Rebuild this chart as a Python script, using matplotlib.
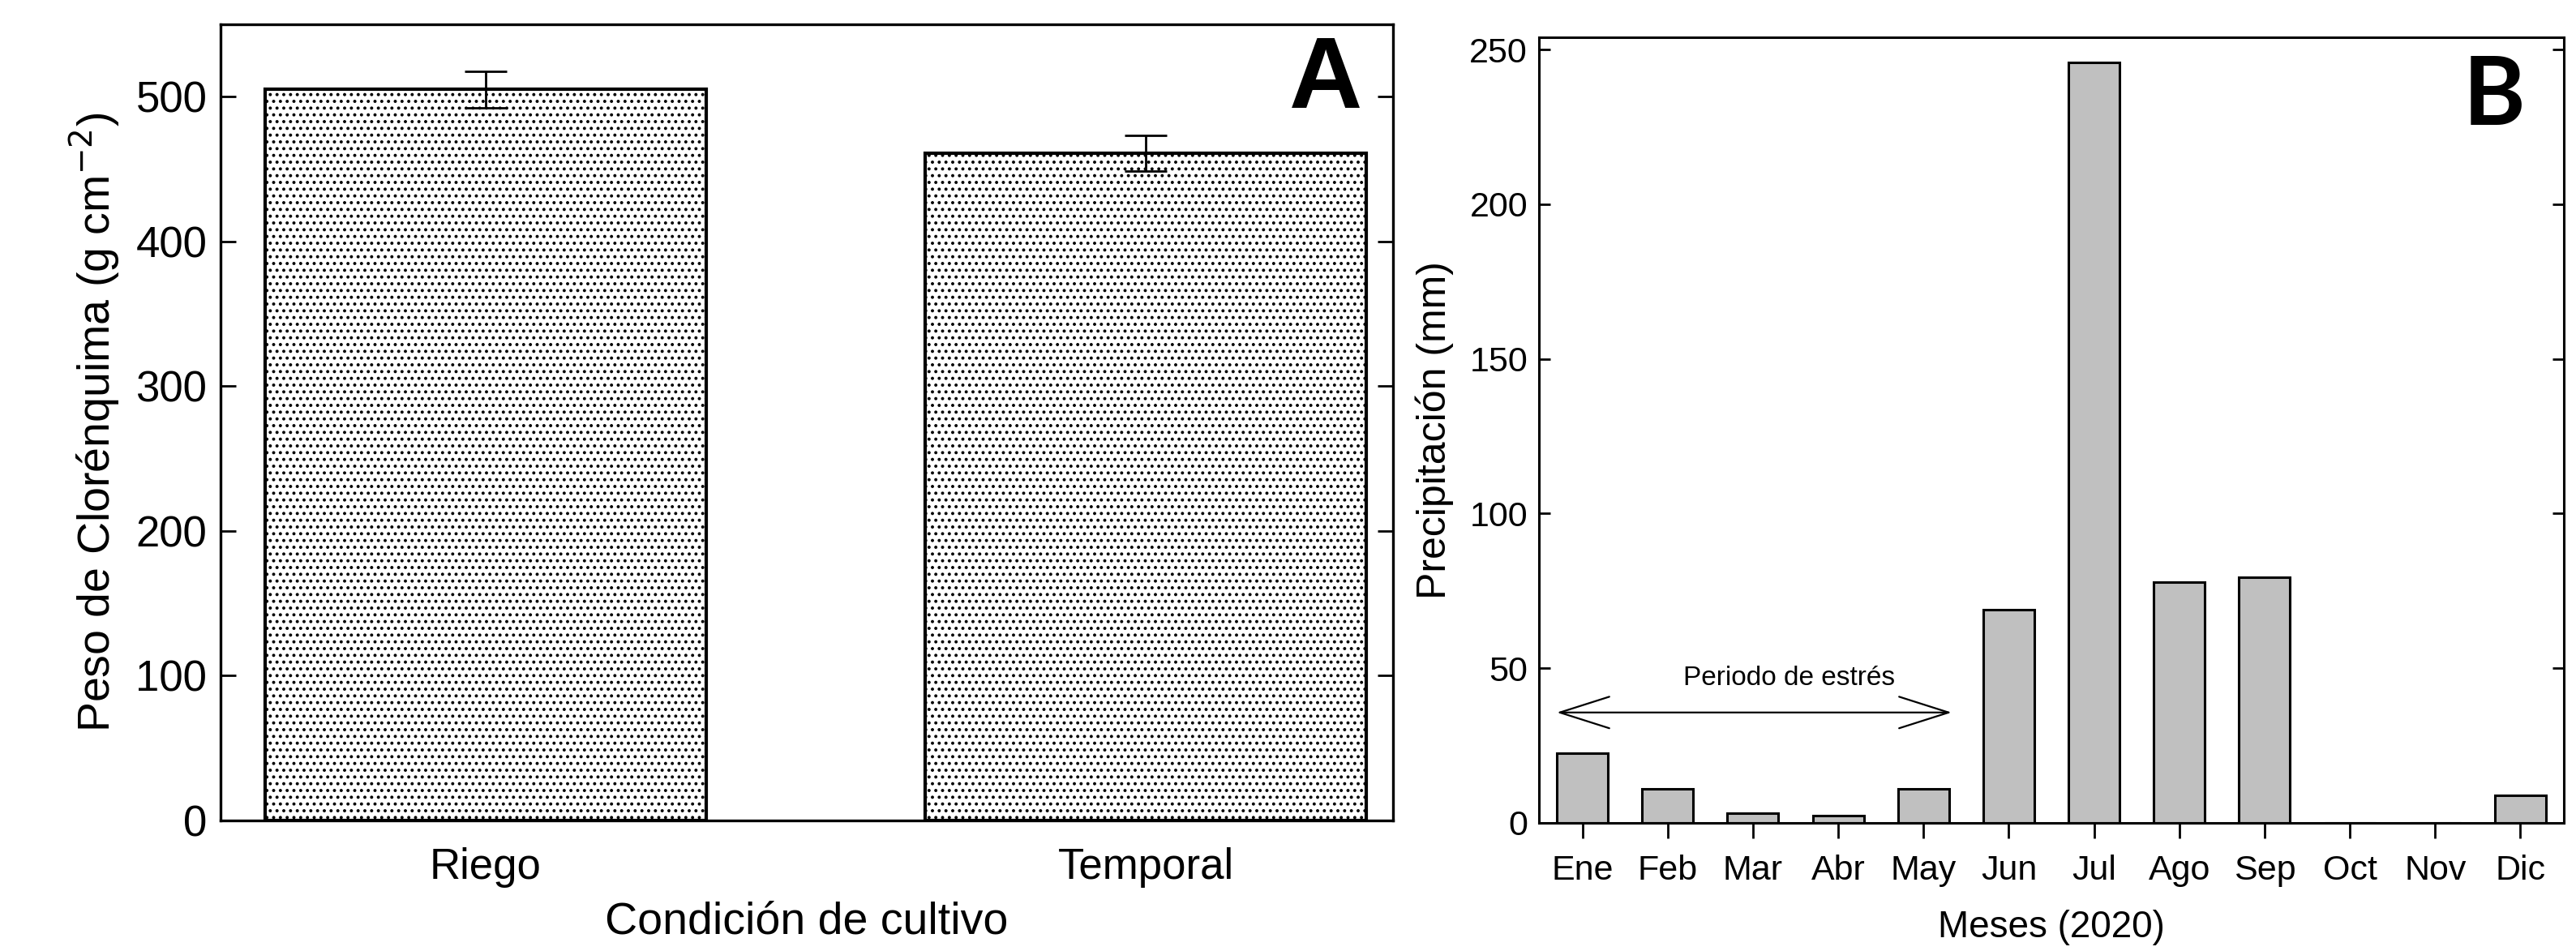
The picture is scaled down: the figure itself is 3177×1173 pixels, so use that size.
import matplotlib
matplotlib.use("Agg")
import matplotlib.pyplot as plt
import numpy as np

# Panel A data
conditions = ["Riego", "Temporal"]
weight = [505, 461]
weight_err = [12.5, 12.5]

# Panel B data
months = ["Ene", "Feb", "Mar", "Abr", "May", "Jun", "Jul", "Ago", "Sep", "Oct", "Nov", "Dic"]
rain = [22.6, 11.1, 3.1, 2.3, 11.1, 69.0, 246.0, 77.8, 79.5, 0, 0, 8.8]

# no condensed face installed, plain Liberation Sans stands in for Arial Narrow
narrow = ["Liberation Sans", "DejaVu Sans"]
regular = ["Liberation Sans", "DejaVu Sans"]

plt.rcParams["hatch.linewidth"] = 1.6
plt.rcParams["hatch.color"] = "black"

fig = plt.figure(figsize=(31.77, 11.73), dpi=100)

# ---------- A ----------
axA = fig.add_axes([0.0856, 0.1373, 0.4551, 0.8372])
xa = np.arange(1, len(conditions) + 1)
axA.bar(xa, weight, width=0.668, color="white", edgecolor="black",
        linewidth=3, hatch="..", zorder=2)
axA.errorbar(xa, weight, yerr=weight_err, fmt="none", ecolor="black",
             elinewidth=2, capsize=19, capthick=2, zorder=3)
axA.set_xlim(0.599, 2.374)
axA.set_ylim(0, 550)
axA.set_yticks([0, 100, 200, 300, 400, 500])
axA.set_xticks(xa)
axA.set_xticklabels(conditions)
for s in axA.spines.values():
    s.set_linewidth(2.4)
axA.tick_params(axis="y", direction="in", length=14, width=2, left=True,
                right=True, pad=12, labelsize=38)
axA.tick_params(axis="x", length=0, pad=24, labelsize=38)
for lab in axA.get_xticklabels() + axA.get_yticklabels():
    lab.set_family(narrow)
axA.set_ylabel("Peso de Clorénquima (g cm$^{-2}$)", family=regular,
               fontsize=40, labelpad=12)
axA.set_xlabel("Condición de cultivo", family=narrow, fontsize=40, labelpad=12)
axA.text(2.272, 510, "A", family=regular, fontweight="bold", fontsize=90,
         ha="center", va="center")

# ---------- B ----------
axB = fig.add_axes([0.5974, 0.1347, 0.3979, 0.8261])
xb = np.arange(len(months))
axB.bar(xb, rain, width=0.6, color="#c0c0c0", edgecolor="black",
        linewidth=2.2, zorder=2)
axB.set_xlim(-0.51, 11.51)
axB.set_ylim(0, 254)
axB.set_yticks([0, 50, 100, 150, 200, 250])
axB.set_xticks(xb)
axB.set_xticklabels(months)
for s in axB.spines.values():
    s.set_linewidth(2.2)
axB.tick_params(axis="y", direction="in", length=10, width=2, left=True,
                right=True, pad=10, labelsize=31)
axB.tick_params(axis="x", direction="out", length=14, width=2, pad=14,
                labelsize=31)
for lab in axB.get_xticklabels() + axB.get_yticklabels():
    lab.set_family(narrow)
axB.set_ylabel("Precipitación (mm)", family=regular, fontsize=36, labelpad=14)
axB.set_xlabel("Meses (2020)", family=narrow, fontsize=33, labelpad=20)
axB.text(10.69, 234.5, "B", family=["Lato", "DejaVu Sans"], fontweight="bold",
         fontsize=84, ha="center", va="center")

axB.annotate("", xy=(4.33, 35.7), xytext=(-0.30, 35.7),
             arrowprops=dict(arrowstyle="<->, head_length=2.2, head_width=0.7",
                             mutation_scale=20, lw=1.6, color="black",
                             shrinkA=0, shrinkB=0))
axB.text(2.42, 46.9, "Periodo de estrés", family=narrow, fontsize=24,
         ha="center", va="center")

fig.savefig("out.png", dpi=100)
